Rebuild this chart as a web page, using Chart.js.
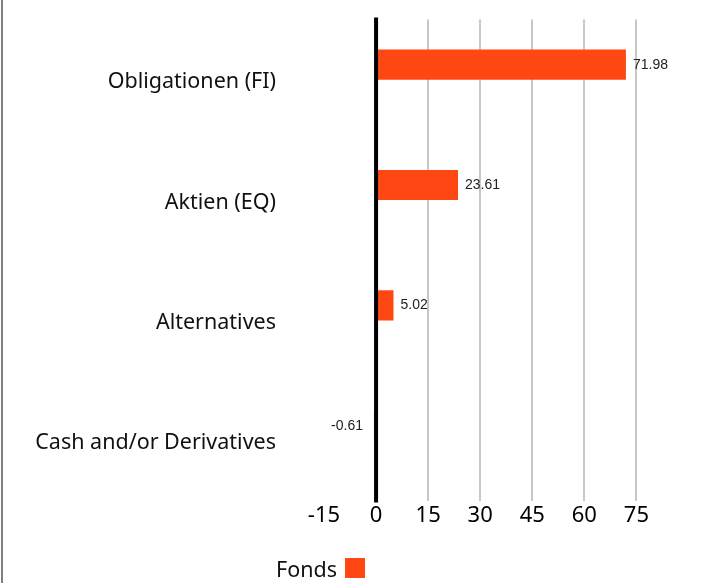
<!DOCTYPE html>
<html><head><meta charset="utf-8">
<script src="https://cdn.jsdelivr.net/npm/chart.js@4/dist/chart.umd.min.js"></script>
<style>
html,body{margin:0;padding:0;background:#fff;}
#wrap{position:relative;width:718px;height:583px;overflow:hidden;background:#fff;}
#edge{position:absolute;left:1px;top:0;width:2px;height:583px;background:#7f7f7f;}
canvas{position:absolute;left:0;top:0;}
#legendText{position:absolute;left:276px;top:554px;font-size:21.5px;line-height:30px;font-family:"Noto Sans",sans-serif;color:#111;white-space:nowrap;}
#legendBox{position:absolute;left:345px;top:558px;width:20px;height:20px;}
</style></head><body>
<div id="wrap"><canvas id="c" width="718" height="583"></canvas><div id="edge"></div><div id="legendText"></div><div id="legendBox"></div></div>
<script>
const categories = ['Obligationen (FI)', 'Aktien (EQ)', 'Alternatives', 'Cash and/or Derivatives'];
const fondsValues = [71.98, 23.61, 5.02, -0.61];
const emptyValues = [null, null, null, null];
const seriesLabel = 'Fonds';
const xTickMin = -15;
const xTickMax = 75;
const xTickStep = 15;

const barColor = '#ff4713';

const zeroLine = {
  id: 'zeroLine',
  afterDatasetsDraw(chart) {
    const ctx = chart.ctx;
    const x = chart.scales.x.getPixelForValue(0);
    const a = chart.chartArea;
    ctx.save();
    ctx.fillStyle = '#000';
    ctx.fillRect(x - 2, a.top - 2, 4, a.bottom - a.top + 3.5);
    ctx.restore();
  }
};

const valueLabels = {
  id: 'valueLabels',
  afterDatasetsDraw(chart) {
    const ctx = chart.ctx;
    const meta = chart.getDatasetMeta(0);
    const data = chart.data.datasets[0].data;
    ctx.save();
    ctx.font = '14px "Liberation Sans", Arial, sans-serif';
    ctx.fillStyle = '#222';
    ctx.textBaseline = 'middle';
    meta.data.forEach((bar, i) => {
      const v = data[i];
      if (v == null) return;
      const txt = v.toFixed(2);
      if (v >= 0) { ctx.textAlign = 'left'; ctx.fillText(txt, bar.x + 7, bar.y); }
      else { ctx.textAlign = 'right'; ctx.fillText(txt, bar.x - 11, bar.y); }
    });
    ctx.restore();
  }
};

const chart = new Chart(document.getElementById('c'), {
  type: 'bar',
  data: {
    labels: categories,
    datasets: [
      { label: seriesLabel, data: fondsValues, backgroundColor: barColor, borderWidth: 0,
        categoryPercentage: 0.5, barPercentage: 1.0 },
      { label: '', data: emptyValues, backgroundColor: 'rgba(0,0,0,0)', borderWidth: 0,
        categoryPercentage: 0.5, barPercentage: 1.0 }
    ]
  },
  options: {
    indexAxis: 'y',
    responsive: false,
    animation: false,
    layout: { padding: { top: 19.5, right: 81.6, bottom: 0, left: 0 } },
    plugins: { legend: { display: false }, tooltip: { enabled: false } },
    scales: {
      x: {
        min: xTickMin, max: xTickMax,
        ticks: { stepSize: xTickStep, padding: 1.5, color: '#000',
                 font: { family: '"Noto Sans", sans-serif', size: 22 } },
        grid: {
          drawTicks: false,
          color: (c) => (c.tick && (c.tick.value === 0 || c.tick.value === xTickMin)) ? 'rgba(0,0,0,0)' : '#c8c8c8',
          lineWidth: 2
        },
        border: { display: false },
        afterFit(scale) { scale.height = 82; scale.paddingLeft = 0; scale.paddingRight = 0; }
      },
      y: {
        ticks: { padding: 48, labelOffset: 2.5, color: '#111',
                 font: { family: '"Noto Sans", sans-serif', size: 21.5 } },
        grid: { display: false, drawTicks: false },
        border: { display: false },
        afterFit(scale) { scale.width = 324; scale.paddingTop = 0; scale.paddingBottom = 0; }
      }
    }
  },
  plugins: [zeroLine, valueLabels]
});

document.getElementById('legendText').textContent = chart.data.datasets[0].label;
document.getElementById('legendBox').style.background = chart.data.datasets[0].backgroundColor;
</script>
</body></html>
